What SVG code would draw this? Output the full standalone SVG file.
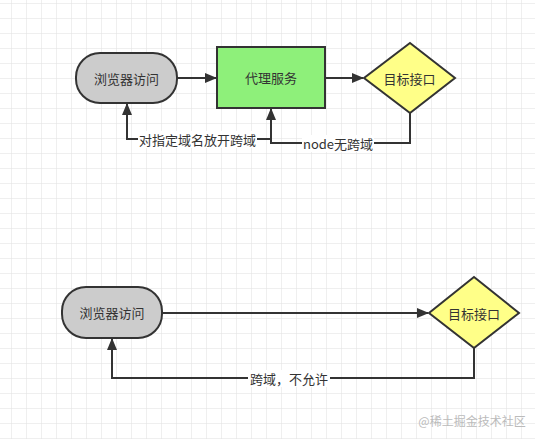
<svg xmlns="http://www.w3.org/2000/svg" width="535" height="439" viewBox="0 0 535 439">
<defs>
<pattern id="grid" x="11" y="3" width="15" height="15" patternUnits="userSpaceOnUse">
<path d="M0 0H15M0 0V15" fill="none" stroke="#e0e0e0" stroke-width="1"/>
</pattern>
<marker id="arr" markerWidth="12" markerHeight="10" refX="11" refY="5" orient="auto" markerUnits="userSpaceOnUse">
<path d="M0 0L12 5L0 10Z" fill="#333"/>
</marker>
</defs>
<style>
.t{font-family:"Noto Sans CJK SC","Noto Sans",sans-serif;font-size:13px;fill:#333;text-anchor:middle;dominant-baseline:central}
.e{fill:none;stroke:#333;stroke-width:2}
.lbl{fill:#ffffff}
.n{stroke:#333;stroke-width:2}
</style>
<rect width="535" height="439" fill="#ffffff"/>
<rect width="535" height="439" fill="url(#grid)"/>
<g id="connectors">
<path class="e" d="M177 78H216" marker-end="url(#arr)"/>
<path class="e" d="M325 78H363" marker-end="url(#arr)"/>
<path class="e" d="M410 113V143H271V109" marker-end="url(#arr)"/>
<path class="e" d="M271 139H127V104" marker-end="url(#arr)"/>
<path class="e" d="M162 313H428" marker-end="url(#arr)"/>
<path class="e" d="M474 348V378H112V339" marker-end="url(#arr)"/>
<rect class="lbl" x="138" y="131" width="119" height="17"/>
<text class="t" x="197.5" y="139">对指定域名放开跨域</text>
<rect class="lbl" x="302" y="135" width="72" height="17"/>
<text class="t" x="338" y="143">node无跨域</text>
<rect class="lbl" x="248" y="370" width="82" height="17"/>
<text class="t" x="289" y="378">跨域，不允许</text>
</g>
<g id="browser1">
<rect class="n" x="76" y="53" width="101" height="50" rx="24" fill="#cccccc"/>
<text class="t" x="126.5" y="78">浏览器访问</text>
</g>
<g id="proxy">
<rect class="n" x="217" y="47" width="108" height="61" fill="#8ef07a"/>
<text class="t" x="271" y="77.5">代理服务</text>
</g>
<g id="target1">
<path class="n" d="M410 43L455 78L410 113L364 78Z" fill="#ffff88"/>
<text class="t" x="409.5" y="78">目标接口</text>
</g>
<g id="browser2">
<rect class="n" x="62" y="287" width="100" height="51" rx="24" fill="#cccccc"/>
<text class="t" x="112" y="312.5">浏览器访问</text>
</g>
<g id="target2">
<path class="n" d="M474 277L519 313L474 348L429 313Z" fill="#ffff88"/>
<text class="t" x="474" y="313">目标接口</text>
</g>
<text x="472" y="420" style="font-family:'Noto Sans CJK SC',sans-serif;font-size:12px;fill:#bbbbbb;text-anchor:middle;dominant-baseline:central">@稀土掘金技术社区</text>
</svg>
